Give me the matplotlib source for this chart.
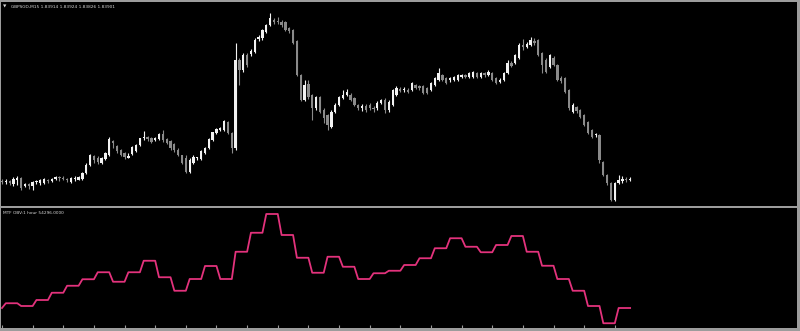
import numpy as np
import matplotlib
matplotlib.use("Agg")
import matplotlib.pyplot as plt

# GBPSGD M15 candles
opens = [1.8389, 1.8388, 1.8389, 1.8386, 1.8390, 1.8392, 1.8384, 1.8386, 1.8384, 1.8388,
         1.8387, 1.8387, 1.8390, 1.8389, 1.8391, 1.8393, 1.8392, 1.8391, 1.8388, 1.8391,
         1.8390, 1.8391, 1.8397, 1.8405, 1.8414, 1.8412, 1.8407, 1.8411, 1.8415, 1.8429,
         1.8424, 1.8420, 1.8417, 1.8412, 1.8416, 1.8419, 1.8425, 1.8432, 1.8433, 1.8432,
         1.8430, 1.8431, 1.8436, 1.8431, 1.8429, 1.8426, 1.8420, 1.8415, 1.8412, 1.8398,
         1.8407, 1.8412, 1.8411, 1.8417, 1.8422, 1.8430, 1.8437, 1.8440, 1.8440, 1.8448,
         1.8437, 1.8422, 1.8510, 1.8500, 1.8515, 1.8516, 1.8518, 1.8531, 1.8532, 1.8538,
         1.8545, 1.8550, 1.8549, 1.8548, 1.8548, 1.8542, 1.8540, 1.8529, 1.8495, 1.8470,
         1.8486, 1.8475, 1.8462, 1.8473, 1.8460, 1.8455, 1.8443, 1.8458, 1.8465, 1.8472,
         1.8475, 1.8475, 1.8472, 1.8465, 1.8462, 1.8464, 1.8465, 1.8462, 1.8462, 1.8467,
         1.8470, 1.8460, 1.8465, 1.8475, 1.8481, 1.8480, 1.8480, 1.8480, 1.8485, 1.8484,
         1.8484, 1.8482, 1.8480, 1.8485, 1.8490, 1.8495, 1.8492, 1.8490, 1.8490, 1.8490,
         1.8493, 1.8495, 1.8493, 1.8493, 1.8497, 1.8493, 1.8497, 1.8495, 1.8497, 1.8492,
         1.8488, 1.8490, 1.8497, 1.8507, 1.8507, 1.8512, 1.8525, 1.8523, 1.8525, 1.8529,
         1.8530, 1.8517, 1.8510, 1.8503, 1.8512, 1.8505, 1.8492, 1.8492, 1.8480, 1.8458,
         1.8463, 1.8460, 1.8455, 1.8448, 1.8440, 1.8435, 1.8435, 1.8408, 1.8395, 1.8387,
         1.8370, 1.8387, 1.8389, 1.8391, 1.8390]
closes = [1.8388, 1.8389, 1.8387, 1.8391, 1.8392, 1.8382, 1.8386, 1.8384, 1.8388, 1.8389,
          1.8390, 1.8391, 1.8389, 1.8391, 1.8393, 1.8392, 1.8391, 1.8390, 1.8392, 1.8392,
          1.8393, 1.8397, 1.8405, 1.8415, 1.8410, 1.8408, 1.8412, 1.8417, 1.8431, 1.8427,
          1.8419, 1.8415, 1.8413, 1.8414, 1.8423, 1.8425, 1.8432, 1.8433, 1.8431, 1.8428,
          1.8432, 1.8436, 1.8430, 1.8427, 1.8422, 1.8420, 1.8415, 1.8407, 1.8398, 1.8410,
          1.8413, 1.8412, 1.8419, 1.8422, 1.8431, 1.8438, 1.8441, 1.8442, 1.8449, 1.8437,
          1.8422, 1.8510, 1.8500, 1.8515, 1.8505, 1.8519, 1.8530, 1.8533, 1.8540, 1.8545,
          1.8552, 1.8548, 1.8548, 1.8545, 1.8540, 1.8539, 1.8527, 1.8495, 1.8470, 1.8485,
          1.8473, 1.8462, 1.8473, 1.8458, 1.8452, 1.8445, 1.8458, 1.8465, 1.8473, 1.8475,
          1.8478, 1.8470, 1.8465, 1.8462, 1.8464, 1.8460, 1.8462, 1.8461, 1.8467, 1.8470,
          1.8460, 1.8468, 1.8480, 1.8482, 1.8479, 1.8481, 1.8478, 1.8487, 1.8482, 1.8482,
          1.8477, 1.8477, 1.8487, 1.8492, 1.8497, 1.8490, 1.8487, 1.8492, 1.8493, 1.8495,
          1.8495, 1.8493, 1.8497, 1.8498, 1.8493, 1.8497, 1.8495, 1.8498, 1.8490, 1.8487,
          1.8490, 1.8497, 1.8507, 1.8504, 1.8515, 1.8525, 1.8523, 1.8526, 1.8530, 1.8527,
          1.8515, 1.8505, 1.8498, 1.8515, 1.8505, 1.8490, 1.8489, 1.8478, 1.8462, 1.8465,
          1.8459, 1.8453, 1.8445, 1.8437, 1.8433, 1.8436, 1.8410, 1.8395, 1.8387, 1.8370,
          1.8387, 1.8390, 1.8391, 1.8390, 1.8390]
highs = [1.8391, 1.8391, 1.8390, 1.8393, 1.8394, 1.8393, 1.8387, 1.8387, 1.8389, 1.8390,
         1.8391, 1.8392, 1.8391, 1.8392, 1.8394, 1.8394, 1.8394, 1.8392, 1.8393, 1.8394,
         1.8394, 1.8398, 1.8407, 1.8416, 1.8415, 1.8414, 1.8413, 1.8418, 1.8433, 1.8430,
         1.8425, 1.8421, 1.8418, 1.8417, 1.8424, 1.8426, 1.8432, 1.8439, 1.8434, 1.8433,
         1.8433, 1.8437, 1.8440, 1.8432, 1.8430, 1.8427, 1.8422, 1.8415, 1.8415, 1.8412,
         1.8415, 1.8413, 1.8420, 1.8423, 1.8432, 1.8438, 1.8442, 1.8443, 1.8450, 1.8449,
         1.8438, 1.8527, 1.8512, 1.8517, 1.8517, 1.8521, 1.8532, 1.8535, 1.8541, 1.8546,
         1.8557, 1.8552, 1.8553, 1.8550, 1.8549, 1.8543, 1.8541, 1.8530, 1.8496, 1.8490,
         1.8490, 1.8476, 1.8474, 1.8474, 1.8462, 1.8456, 1.8460, 1.8467, 1.8474, 1.8480,
         1.8481, 1.8477, 1.8473, 1.8466, 1.8466, 1.8466, 1.8467, 1.8464, 1.8469, 1.8471,
         1.8472, 1.8470, 1.8481, 1.8484, 1.8483, 1.8483, 1.8482, 1.8488, 1.8486, 1.8485,
         1.8485, 1.8483, 1.8488, 1.8493, 1.8502, 1.8496, 1.8493, 1.8493, 1.8494, 1.8496,
         1.8496, 1.8496, 1.8498, 1.8499, 1.8498, 1.8498, 1.8498, 1.8500, 1.8498, 1.8493,
         1.8492, 1.8498, 1.8510, 1.8509, 1.8516, 1.8527, 1.8531, 1.8528, 1.8533, 1.8532,
         1.8531, 1.8518, 1.8512, 1.8516, 1.8514, 1.8506, 1.8494, 1.8493, 1.8481, 1.8467,
         1.8464, 1.8461, 1.8456, 1.8449, 1.8441, 1.8437, 1.8436, 1.8409, 1.8396, 1.8388,
         1.8388, 1.8395, 1.8394, 1.8393, 1.8393]
lows = [1.8386, 1.8386, 1.8385, 1.8384, 1.8385, 1.8380, 1.8383, 1.8381, 1.8380, 1.8386,
        1.8385, 1.8386, 1.8387, 1.8388, 1.8390, 1.8389, 1.8390, 1.8388, 1.8387, 1.8389,
        1.8390, 1.8390, 1.8396, 1.8404, 1.8407, 1.8406, 1.8406, 1.8410, 1.8414, 1.8422,
        1.8417, 1.8414, 1.8411, 1.8412, 1.8415, 1.8418, 1.8424, 1.8430, 1.8429, 1.8427,
        1.8429, 1.8430, 1.8428, 1.8426, 1.8420, 1.8418, 1.8414, 1.8406, 1.8397, 1.8397,
        1.8406, 1.8410, 1.8410, 1.8416, 1.8421, 1.8429, 1.8436, 1.8439, 1.8439, 1.8436,
        1.8417, 1.8420, 1.8485, 1.8498, 1.8503, 1.8514, 1.8517, 1.8529, 1.8530, 1.8537,
        1.8544, 1.8546, 1.8546, 1.8543, 1.8539, 1.8537, 1.8526, 1.8494, 1.8469, 1.8469,
        1.8471, 1.8450, 1.8460, 1.8457, 1.8447, 1.8440, 1.8442, 1.8457, 1.8464, 1.8471,
        1.8474, 1.8469, 1.8464, 1.8460, 1.8459, 1.8458, 1.8460, 1.8458, 1.8460, 1.8466,
        1.8457, 1.8458, 1.8464, 1.8474, 1.8478, 1.8478, 1.8477, 1.8479, 1.8481, 1.8480,
        1.8476, 1.8476, 1.8479, 1.8484, 1.8489, 1.8489, 1.8486, 1.8488, 1.8489, 1.8489,
        1.8492, 1.8492, 1.8492, 1.8492, 1.8492, 1.8492, 1.8493, 1.8494, 1.8489, 1.8486,
        1.8487, 1.8489, 1.8496, 1.8503, 1.8506, 1.8511, 1.8520, 1.8522, 1.8524, 1.8525,
        1.8514, 1.8497, 1.8497, 1.8502, 1.8504, 1.8489, 1.8487, 1.8477, 1.8460, 1.8457,
        1.8457, 1.8452, 1.8444, 1.8436, 1.8432, 1.8433, 1.8407, 1.8394, 1.8385, 1.8369,
        1.8369, 1.8386, 1.8387, 1.8388, 1.8389]

# MTF OBV, one value per hour (4 M15 bars each, first hour has one bar)
obv_hourly = [54300, 56200, 55100, 57500, 60400, 63200, 65800, 68600, 64800, 68600,
              73200, 66600, 61200, 65900, 71100, 65900, 76800, 84400, 91900, 83500,
              74400, 68400, 74800, 70800, 65900, 68200, 69200, 71500, 74200, 78200,
              82200, 78800, 76600, 79500, 83100, 76800, 71200, 65900, 61200, 55100,
              48200, 54296]

title_top = "GBPSGD,M15 1.83914 1.83924 1.83826 1.83901"
title_obv = "MTF OBV:1 hour 54296.0000"

o = np.array(opens)
c = np.array(closes)
h = np.array(highs)
l = np.array(lows)
x = np.arange(len(o))
bars_hour = (x + 3) // 4
obv = np.array(obv_hourly)[bars_hour]

W, H = 800, 331
fig = plt.figure(figsize=(W / 100, H / 100), dpi=100, facecolor="#9c9c9c")
ax1 = fig.add_axes([1 / W, (H - 206) / H, 796 / W, 204 / H])
ax2 = fig.add_axes([1 / W, (H - 328) / H, 796 / W, 120 / H])

for ax in (ax1, ax2):
    ax.set_facecolor("black")
    for s in ax.spines.values():
        s.set_visible(False)
    ax.set_xlim(-0.26, 207.57)
    ax.set_yticks([])

# candles
up = c >= o
bull = "#f2f2f2"
bear = "#8a8a8a"
cols = np.where(up, bull, bear)
ax1.vlines(x, l, h, colors=cols, linewidth=0.8)
body = np.maximum(np.abs(c - o), 0.00008)
ax1.bar(x, body, bottom=np.minimum(o, c), width=0.6, color=cols, linewidth=0)
ax1.set_ylim(1.8364, 1.8568)
ax1.set_xticks([])

# OBV line
ax2.plot(x, obv, color="#e3327c", linewidth=1.3)
ax2.set_ylim(46300, 94300)
ax2.set_xticks(np.arange(0, 161, 8))
ax2.tick_params(axis="x", direction="in", length=2.5, width=0.8,
                color="#9c9c9c", labelbottom=False)

fam = ["Liberation Sans Narrow", "DejaVu Sans"]
fig.text(3 / W, 1 - 7 / H, "\u25bc", color="#d8d8d8", fontsize=3.2,
         va="center", ha="left", family="DejaVu Sans")
fig.text(11 / W, 1 - 7 / H, title_top, color="#d8d8d8", fontsize=3.1,
         va="center", ha="left", family=fam)
fig.text(3 / W, 1 - 213 / H, title_obv, color="#d8d8d8", fontsize=3.1,
         va="center", ha="left", family=fam)

fig.savefig("out.png", dpi=100, facecolor=fig.get_facecolor())
